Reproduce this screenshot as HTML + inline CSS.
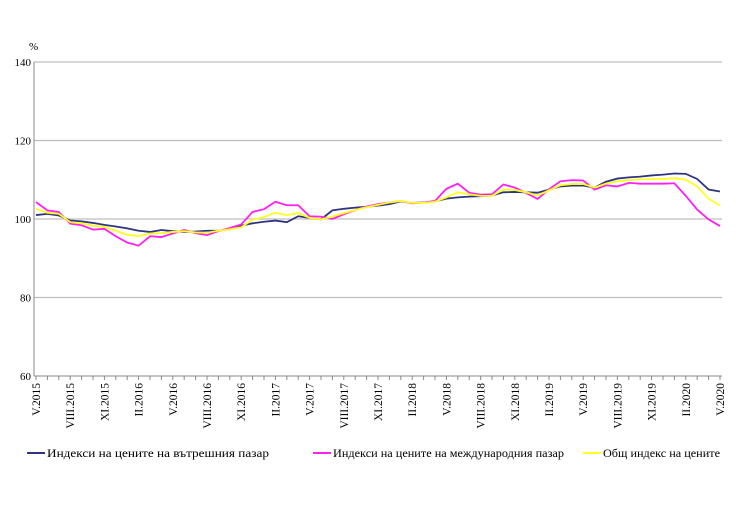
<!DOCTYPE html>
<html><head><meta charset="utf-8"><style>
body{margin:0;background:#fff;width:740px;height:505px;overflow:hidden}
text{font-family:"Liberation Serif",serif}
</style></head><body>
<svg id="chart" width="740" height="505" xmlns="http://www.w3.org/2000/svg">
<g id="grid"></g><g id="axes"></g><g id="series"></g><g id="legend"></g>
</svg>
<script>
const months=["V","VI","VII","VIII","IX","X","XI","XII","I","II","III","IV"];
const yTicks=[60,80,100,120,140];
const domestic=[101.0,101.3,100.9,99.6,99.4,99.0,98.5,98.1,97.6,97.0,96.7,97.2,
96.9,96.7,96.8,97.0,97.0,97.4,98.3,98.9,99.3,99.6,99.2,100.7,
100.3,99.9,102.2,102.6,102.9,103.1,103.4,103.8,104.5,104.1,104.2,104.5,
105.2,105.5,105.7,105.8,106.0,106.8,106.9,106.8,106.7,107.5,108.3,108.5,
108.5,108.0,109.5,110.3,110.6,110.8,111.1,111.3,111.6,111.5,110.2,107.5,107.0];
const international=[104.3,102.2,101.8,98.8,98.4,97.3,97.5,95.6,94.0,93.2,95.6,95.4,
96.3,97.2,96.4,95.9,96.9,97.7,98.6,101.8,102.5,104.4,103.5,103.5,
100.7,100.6,100.0,101.2,102.3,103.2,103.8,104.2,104.6,104.0,104.2,104.6,
107.7,109.0,106.7,106.2,106.3,108.8,108.0,106.6,105.1,107.6,109.6,109.9,
109.8,107.5,108.6,108.3,109.2,109.0,109.0,109.0,109.1,105.9,102.4,99.9,98.2];
const general=[102.6,101.6,101.3,99.2,98.9,98.3,98.0,97.0,96.0,95.6,96.3,96.4,
96.7,96.9,96.6,96.5,97.0,97.4,97.9,99.8,100.5,101.6,101.0,101.5,
100.3,99.9,100.6,101.5,102.3,103.0,103.6,104.2,104.6,104.1,104.1,104.4,
105.5,106.8,106.3,105.9,105.9,107.5,107.4,106.8,106.0,107.3,108.6,108.9,
108.9,108.0,109.0,109.6,109.9,110.1,110.2,110.2,110.4,110.0,108.3,105.2,103.4];
const seriesNames=["Индекси на цените на вътрешния пазар","Индекси на цените на международния пазар","Общ индекс на цените"];
const NS="http://www.w3.org/2000/svg";
const x0=36,dx=11.4,yAt=v=>376-(v-60)*3.925,xAt=i=>x0+i*dx;
function mk(t,a,p){const e=document.createElementNS(NS,t);for(const k in a)e.setAttribute(k,a[k]);p.appendChild(e);return e;}
const grid=document.getElementById('grid'),axes=document.getElementById('axes'),ser=document.getElementById('series'),leg=document.getElementById('legend');
yTicks.forEach(v=>{
 if(v>60){const l=mk('line',{x1:34,x2:722,y1:yAt(v),y2:yAt(v),stroke:'#bdbdbd','stroke-width':1.2},grid);
 
 }
 const t=mk('text',{x:31,y:yAt(v)+4,'text-anchor':'end','font-size':11},axes);t.textContent=v;
 
 
});
const pc=mk('text',{x:29,y:50,'font-size':11},axes);pc.textContent='%';


const ya=mk('line',{x1:34,x2:34,y1:yAt(140),y2:yAt(60),stroke:'#888'},axes);


const xa=mk('line',{x1:34,x2:722,y1:yAt(60),y2:yAt(60),stroke:'#888'},axes);


for(let i=0;i<domestic.length;i++){
 const x=xAt(i);mk('line',{x1:x,x2:x,y1:376,y2:380,stroke:'#888'},axes);
 if(i%3===0){const m=months[i%12],yr=2015+Math.floor((i+4)/12);
  const t=mk('text',{transform:`translate(${x+4},383) rotate(-90)`,'text-anchor':'end','font-size':11.5},axes);
  t.textContent=m+'.'+yr;
  
  }
}
const colors=['#2e3580','#ff20f0','#ffff20'];
[domestic,international,general].forEach((d,k)=>{
 const p=mk('polyline',{points:d.map((v,i)=>xAt(i)+','+yAt(v)).join(' '),fill:'none',stroke:colors[k],'stroke-width':1.8},ser);
 
 
});
const lx=[27,313,583];
seriesNames.forEach((n,k)=>{
 const l=mk('line',{x1:lx[k],x2:lx[k]+18,y1:453,y2:453,stroke:colors[k],'stroke-width':2},leg);
 
 
 const t=mk('text',{x:lx[k]+20,y:457,'font-size':12,textLength:[222,231,117][k],lengthAdjust:'spacingAndGlyphs'},leg);t.textContent=n;
 
 
});
</script>
</body></html>
